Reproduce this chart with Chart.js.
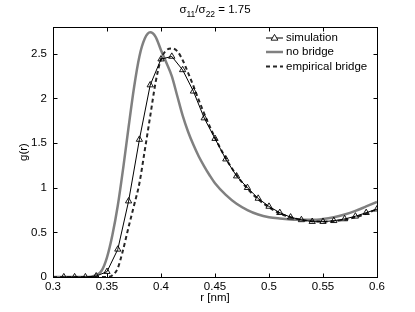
<!DOCTYPE html>
<html>
<head>
<meta charset="utf-8">
<script src="https://cdn.jsdelivr.net/npm/chart.js@4/dist/chart.umd.min.js"></script>
<style>
html,body{margin:0;padding:0;background:#fff;}
#wrap{width:415px;height:312px;position:relative;}
</style>
</head>
<body>
<div id="wrap"><canvas id="c" width="415" height="312"></canvas></div>
<script>
// ---- data ----
const simR = [0.31,0.32,0.33,0.34,0.35,0.36,0.37,0.38,0.39,0.40,0.41,0.42,0.43,0.44,0.45,0.46,0.47,0.48,0.49,0.50,0.51,0.52,0.53,0.54,0.55,0.56,0.57,0.58,0.59,0.60];
const simG = [0,0,0,0.01,0.06,0.31,0.85,1.54,2.15,2.44,2.47,2.32,2.08,1.78,1.55,1.32,1.13,1.00,0.88,0.79,0.72,0.67,0.64,0.62,0.62,0.63,0.65,0.68,0.72,0.76];

const noBridgeR = [0.30,0.33,0.335,0.34,0.345,0.35,0.355,0.36,0.365,0.37,0.375,0.38,0.385,0.39,0.395,0.40,0.405,0.41,0.415,0.42,0.425,0.43,0.435,0.44,0.445,0.45,0.46,0.47,0.48,0.49,0.50,0.51,0.52,0.53,0.54,0.55,0.56,0.57,0.58,0.59,0.60];
const noBridgeG = [0,0,0.003,0.02,0.07,0.22,0.47,0.8,1.22,1.68,2.12,2.47,2.67,2.74,2.69,2.54,2.4,2.25,2.03,1.81,1.63,1.48,1.35,1.24,1.14,1.05,0.92,0.82,0.75,0.70,0.67,0.655,0.645,0.64,0.64,0.65,0.67,0.70,0.74,0.79,0.84];

const empR = [0.30,0.35,0.355,0.36,0.365,0.37,0.375,0.38,0.385,0.39,0.395,0.40,0.405,0.41,0.415,0.42,0.425,0.43,0.435,0.44,0.445,0.45,0.46,0.47,0.48,0.49,0.50,0.51,0.52,0.53,0.54,0.55,0.56,0.57,0.58,0.59,0.60];
const empG = [0,0,0.02,0.1,0.31,0.56,0.8,1.05,1.42,1.8,2.18,2.44,2.54,2.56,2.53,2.43,2.29,2.14,1.98,1.83,1.69,1.56,1.33,1.14,0.99,0.87,0.78,0.71,0.67,0.64,0.625,0.62,0.625,0.64,0.67,0.71,0.76];

const seriesLabels = ['simulation','no bridge','empirical bridge'];
const xTicks = [0.3,0.35,0.4,0.45,0.5,0.55,0.6];
const yTicks = [0,0.5,1,1.5,2,2.5];
const titleParts = [['σ',''],['11','sub'],['/',''],['σ',''],['22','sub'],[' = 1.75','']];
const xTitle = 'r [nm]';
const yTitle = 'g(r)';

// ---- helpers ----
const FONT = '"Liberation Sans", Arial, Helvetica, sans-serif';
const FS = 11.5;
const pts = (r,g)=>r.map((x,i)=>({x:x,y:g[i]}));

const boxTicksPlugin = {
  id:'boxTicks',
  afterDatasetsDraw(chart){
    const {ctx, chartArea:a, scales:{x,y}} = chart;
    ctx.save();
    ctx.strokeStyle = '#000';
    ctx.lineWidth = 1;
    const L = Math.round(a.left)+0.5, R = Math.round(a.right)+0.5, T = Math.round(a.top)+0.5, B = Math.round(a.bottom)+0.5;
    ctx.strokeRect(L, T, R-L, B-T);
    const tl = 4;
    ctx.beginPath();
    xTicks.forEach(v=>{
      const px = Math.round(x.getPixelForValue(v))+0.5;
      ctx.moveTo(px,B); ctx.lineTo(px,B-tl);
      ctx.moveTo(px,T); ctx.lineTo(px,T+tl);
    });
    yTicks.forEach(v=>{
      const py = Math.round(y.getPixelForValue(v))+0.5;
      ctx.moveTo(L,py); ctx.lineTo(L+tl,py);
      ctx.moveTo(R,py); ctx.lineTo(R-tl,py);
    });
    ctx.stroke();
    ctx.restore();
  },
  afterDraw(chart){
    const {ctx, chartArea:a} = chart;
    ctx.save();
    // title with subscripts
    const main = FS+'px '+FONT, sub = (FS-3)+'px '+FONT;
    let w = 0;
    titleParts.forEach(([t,k])=>{ ctx.font = k==='sub'?sub:main; w += ctx.measureText(t).width; });
    let cx = (a.left+a.right)/2 - w/2;
    const base = 13;
    ctx.fillStyle = '#000';
    ctx.textBaseline = 'alphabetic';
    ctx.textAlign = 'left';
    titleParts.forEach(([t,k])=>{
      ctx.font = k==='sub'?sub:main;
      ctx.fillText(t, cx, k==='sub'? base+4 : base);
      cx += ctx.measureText(t).width;
    });
    // legend
    const lx0 = 266, lx1 = 283, tx = 286;
    const rows = [38,52,66.5];
    chart.data.datasets.forEach((ds,i)=>{
      const yy = rows[i];
      ctx.save();
      ctx.strokeStyle = ds.borderColor;
      ctx.lineWidth = ds.borderWidth;
      ctx.setLineDash(ds.borderDash || []);
      ctx.beginPath(); ctx.moveTo(lx0,yy); ctx.lineTo(lx1,yy); ctx.stroke();
      ctx.setLineDash([]);
      if (ds.pointRadius > 0){
        const r = ds.pointRadius, mx=(lx0+lx1)/2;
        ctx.lineWidth = ds.pointBorderWidth;
        ctx.strokeStyle = ds.pointBorderColor;
        ctx.beginPath();
        ctx.moveTo(mx, yy - r);
        ctx.lineTo(mx + r*0.95, yy + r*0.6);
        ctx.lineTo(mx - r*0.95, yy + r*0.6);
        ctx.closePath();
        ctx.fillStyle='#fff'; ctx.fill();
        ctx.stroke();
      }
      ctx.restore();
      ctx.font = FS+'px '+FONT;
      ctx.fillStyle = '#000';
      ctx.textBaseline = 'middle';
      ctx.fillText(ds.label, tx, yy);
    });
    ctx.restore();
  }
};

new Chart(document.getElementById('c'), {
  type:'line',
  data:{
    datasets:[
      {label:seriesLabels[0], data:pts(simR,simG), borderColor:'#000', borderWidth:1, tension:0,
       pointStyle:'triangle', pointRadius:3.6, pointBorderColor:'#000', pointBackgroundColor:'rgba(255,255,255,0)', pointBorderWidth:0.9, order:0},
      {label:seriesLabels[1], data:pts(noBridgeR,noBridgeG), borderColor:'#808080', borderWidth:2.5, pointRadius:0,
       cubicInterpolationMode:'monotone', order:2},
      {label:seriesLabels[2], data:pts(empR,empG), borderColor:'#262626', borderWidth:2, borderDash:[4,3], pointRadius:0,
       cubicInterpolationMode:'monotone', order:1}
    ]
  },
  options:{
    responsive:false, animation:false,
    layout:{padding:{top:27, right:38, left:0, bottom:0}},
    plugins:{legend:{display:false}, tooltip:{enabled:false}, title:{display:false}},
    scales:{
      x:{type:'linear', min:0.3, max:0.6,
         afterBuildTicks(s){ s.ticks = xTicks.map(v=>({value:v})); },
         afterFit(s){ s.height = 35; },
         grid:{display:false, drawTicks:false}, border:{display:false},
         ticks:{padding:3, color:'#000', font:{family:FONT, size:FS}, maxRotation:0, autoSkip:false,
                callback:(v)=>String(+v.toFixed(2))},
         title:{display:true, text:xTitle, color:'#000', font:{family:FONT, size:FS}, padding:{top:0,bottom:7}}
      },
      y:{type:'linear', min:0, max:2.8,
         afterBuildTicks(s){ s.ticks = yTicks.map(v=>({value:v})); },
         afterFit(s){ s.width = 53; },
         grid:{display:false, drawTicks:false}, border:{display:false},
         ticks:{padding:6, color:'#000', font:{family:FONT, size:FS}, autoSkip:false,
                callback:(v)=>String(+v.toFixed(2))},
         title:{display:true, text:yTitle, color:'#000', font:{family:FONT, size:FS}, padding:{top:17,bottom:0}}
      }
    }
  },
  plugins:[boxTicksPlugin]
});
</script>
</body>
</html>
